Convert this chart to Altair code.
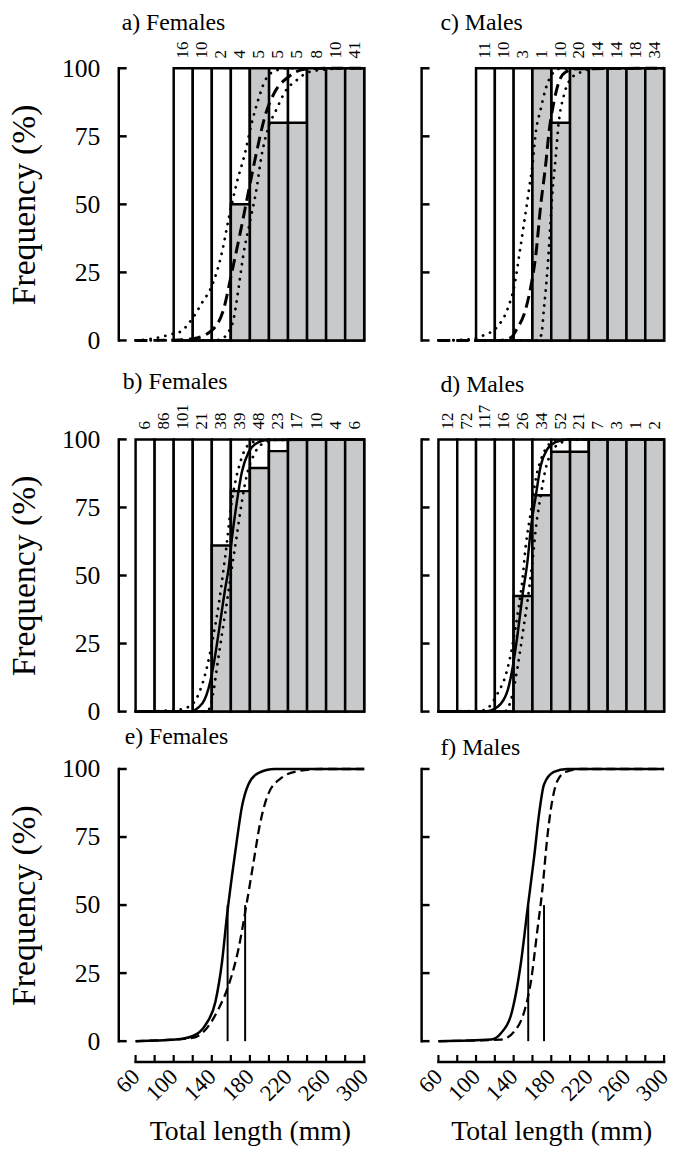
import altair as alt
import pandas as pd

# ------------------------------------------------------------------ data
BIN = 20
starts_ac = [100, 120, 140, 160, 180, 200, 220, 240, 260, 280]
starts_bd = [60, 80, 100, 120, 140, 160, 180, 200, 220, 240, 260, 280]

counts_a = [16, 10, 2, 4, 5, 5, 5, 8, 10, 41]
mature_a = [0, 0, 0, 50, 100, 80, 80, 100, 100, 100]
counts_c = [11, 10, 3, 1, 10, 20, 14, 14, 18, 34]
mature_c = [0, 0, 0, 100, 80, 100, 100, 100, 100, 100]
counts_b = [6, 86, 101, 21, 38, 39, 48, 23, 17, 10, 4, 6]
mature_b = [0, 0, 0, 0, 61, 81, 89.5, 95.7, 100, 100, 100, 100]
counts_d = [12, 72, 117, 16, 26, 34, 52, 21, 7, 3, 1, 2]
mature_d = [0, 0, 0, 0, 42.5, 79.5, 95.5, 95.5, 100, 100, 100, 100]

# fitted ogives (total length mm, % mature)
a_fit_L = [60, 100, 120, 140, 152.5, 161, 170, 178.4, 187, 196, 206, 220, 237, 260, 300]
a_fit_p = [0, 0.1, 0.6, 3.7, 11.6, 25, 39.8, 54.5, 69.2, 82.6, 91.2, 96.7, 99.6, 100, 100]
a_up_L = [60, 80, 100, 106, 119.5, 130, 140, 150.7, 157.7, 166.3, 175, 182, 189, 196, 206, 220, 300]
a_up_p = [0, 0.8, 2.5, 3, 8, 14, 20, 32.4, 44.7, 58, 69, 80, 88.7, 95.5, 99, 100, 100]
a_lo_L = [60, 140, 150, 156, 163, 168, 173, 180, 187, 192.3, 199, 208, 216.6, 230.4, 240.8, 258, 280, 300]
a_lo_p = [0, 0, 0.5, 2.4, 8, 19, 31.2, 43.5, 55.7, 68, 77.7, 85, 91.2, 96, 98.5, 99.5, 100, 100]

c_fit_L = [60, 123, 137, 144, 151, 158, 163.6, 168.8, 174, 177.6, 182.8, 188, 195, 207, 300]
c_fit_p = [0, 0, 1, 4.6, 9.5, 19.3, 31.5, 49.8, 64.4, 76.6, 87.6, 94.9, 98.5, 99.8, 100]
c_up_L = [60, 88, 106, 123, 134, 141, 146, 151.3, 156.5, 160, 163.6, 168.8, 174, 181, 188, 300]
c_up_p = [0, 0.3, 1.6, 5.2, 12, 20.5, 31.5, 43.7, 55.9, 64.4, 76.6, 85, 92.4, 97.9, 99.8, 100]
c_lo_L = [60, 165, 169.3, 172.3, 175.8, 178.6, 181, 184.6, 188, 193.4, 200.4, 211, 230, 300]
c_lo_p = [0, 0, 2, 12, 25.4, 40, 53.4, 66.8, 80.2, 90, 96, 98.5, 100, 100]

b_fit_L = [60, 116, 130, 138.7, 143.8, 149, 154.2, 157.7, 161.1, 166.3, 171.5, 178.4, 185.4, 199, 300]
b_fit_p = [0, 0, 3, 11.5, 21.2, 33.3, 45.5, 52.7, 63.6, 77, 87.9, 95.2, 98.2, 99.8, 100]
b_up_L = [60, 100, 116, 126.5, 135, 142, 147.3, 152.5, 156, 159.4, 164.6, 169.8, 175, 182, 192, 300]
b_up_p = [0, 0.5, 1.8, 6.7, 16.4, 28.5, 39.4, 52.7, 62.4, 73.3, 84.2, 91.5, 96.4, 98.8, 99.8, 100]
b_lo_L = [60, 135, 142, 145.5, 150.7, 156, 161, 166.3, 171.5, 176.7, 183.6, 192.3, 206, 300]
b_lo_p = [0, 0, 7.9, 16.4, 28.5, 40.6, 52.7, 64.8, 77, 86.7, 93.9, 98.2, 99.8, 100]

d_fit_L = [60, 109, 123, 133.7, 139, 144.2, 149.5, 154.7, 158.3, 163.6, 168.8, 175.8, 184.6, 197, 300]
d_fit_p = [0, 0, 1.8, 7.9, 16.4, 28.5, 43, 55.2, 67.3, 79.4, 90.3, 96.4, 99, 100, 100]
d_up_L = [60, 100, 109, 123, 132, 139, 144.2, 149.5, 153, 158.3, 163.6, 170.5, 177.6, 186, 300]
d_up_p = [0, 0.3, 0.6, 6.7, 13.9, 24.8, 35.8, 49, 61.2, 73.3, 85.5, 93.9, 98.2, 99.8, 100]
d_lo_L = [60, 130, 139, 144.2, 149.5, 154.7, 160, 163.6, 168.8, 174, 181, 191.6, 204, 300]
d_lo_p = [0, 0, 6.7, 16.4, 28.5, 40.6, 55.2, 67.3, 79.4, 89.1, 95.8, 99, 100, 100]

e_solid_L = [60, 102, 119.5, 133.4, 143.8, 150.7, 155.9, 161.1, 166.3, 171.5, 178.4, 188.8, 206, 300]
e_solid_p = [0, 0.6, 1.8, 6, 14.5, 29, 46, 60.5, 73.8, 85.9, 94.3, 98.5, 100, 100]
e_dash_L = [60, 119.5, 133.4, 147.3, 157.7, 168, 176.7, 183.6, 190.6, 199.2, 213, 230.4, 254.6, 300]
e_dash_p = [0, 1.2, 4.2, 12, 20.6, 33.9, 50.8, 65.3, 79.8, 90.7, 96.7, 99.2, 100, 100]
e_L50 = [156.6, 175]

f_solid_L = [60, 116, 126.7, 137.3, 147.8, 154.7, 161.8, 167, 172.3, 182.8, 196.8, 300]
f_solid_p = [0, 0.6, 3, 9.7, 29, 48.4, 67.7, 83.4, 94.3, 98.9, 100, 100]
f_dash_L = [60, 126.7, 140.7, 151.3, 158.3, 165.3, 170.5, 175.8, 181, 186.3, 195.2, 211, 300]
f_dash_p = [0, 0.6, 3.6, 10.9, 21.8, 41, 55.6, 75, 88.3, 95.5, 98.9, 100, 100]
f_L50 = [155.5, 172.3]

y_ticks = [0, 25, 50, 75, 100]
x_minor_ticks = [60, 80, 100, 120, 140, 160, 180, 200, 220, 240, 260, 280, 300]
x_label_ticks = [60, 100, 140, 180, 220, 260, 300]

# ------------------------------------------------------------------ style
FONT = "Liberation Serif"
GRAY = "#c8c9cb"
H = 275
W_LEFT = 231
W_RIGHT = 228
AX_OFF = 17
X_OFF = 21
TITLE_FS = 24
COUNT_FS = 17


def xs():
    return alt.Scale(domain=[60, 300], nice=False, zero=False)


def ys():
    return alt.Scale(domain=[0, 100], nice=False, zero=False)


def y_axis(left):
    if not left:
        return None
    return alt.Axis(values=y_ticks, domain=False, ticks=False, tickSize=0, grid=False,
                    offset=AX_OFF, labelPadding=19, labelFont=FONT, labelFontSize=26,
                    labelColor="black", title="Frequency (%)", titleFont=FONT,
                    titleFontSize=34, titleFontWeight="normal", titleColor="black",
                    titlePadding=20)


def x_axis(bottom):
    if not bottom:
        return None
    return alt.Axis(values=x_label_ticks, domain=False, ticks=False, tickSize=0, grid=False,
                    offset=X_OFF, labelAngle=315, labelAlign="right", labelBaseline="middle",
                    labelOverlap=False, labelFlush=False, labelBound=False,
                    labelPadding=11, labelFont=FONT, labelFontSize=23, labelColor="black",
                    title="Total length (mm)", titleFont=FONT, titleFontSize=28,
                    titleFontWeight="normal", titleColor="black", titlePadding=12)


def y_axis_layers(yax, xax):
    tdf = pd.DataFrame({"t": y_ticks})
    line = alt.Chart(tdf).mark_rule(color="black", strokeWidth=2.5, strokeCap="square").encode(
        x=alt.value(-AX_OFF),
        y=alt.Y("min(t):Q", scale=ys(), axis=yax),
        y2="max(t):Q",
    )
    ticks = alt.Chart(tdf).mark_rule(color="black", strokeWidth=2.5).encode(
        x=alt.value(-AX_OFF),
        x2=alt.value(-AX_OFF + 8),
        y=alt.Y("t:Q", scale=ys(), axis=yax),
    )
    return [line, ticks]


def x_axis_layers(yax, xax):
    tdf = pd.DataFrame({"t": x_minor_ticks})
    line = alt.Chart(tdf).mark_rule(color="black", strokeWidth=2.5, strokeCap="square").encode(
        x=alt.X("min(t):Q", scale=xs(), axis=xax),
        x2="max(t):Q",
        y=alt.value(H + X_OFF),
    )
    ticks = alt.Chart(tdf).mark_rule(color="black", strokeWidth=2.2).encode(
        x=alt.X("t:Q", scale=xs(), axis=xax),
        y=alt.value(H + X_OFF),
        y2=alt.value(H + X_OFF - 7),
    )
    return [line, ticks]


def ttl(text, offset, dx):
    return alt.TitleParams(text, anchor="start", frame="group", font=FONT, fontSize=TITLE_FS,
                           fontWeight="normal", color="black", offset=offset, dx=dx)


def curve_df(Ls, ps, name):
    return pd.DataFrame({"L": Ls, "p": ps, "band": name})


def bar_panel(starts, counts, mature, fit, up, lo, fit_solid, title, left, width, t_off, t_dx):
    yax = y_axis(left)
    xax = None
    df = pd.DataFrame({"start": starts, "count": counts, "mature": mature})
    base = alt.Chart(df).transform_calculate(
        end=f"datum.start + {BIN}", mid=f"datum.start + {BIN / 2}", lo="0", hi="100")
    white = base.mark_rect(fill="white", stroke="black", strokeWidth=2.5).encode(
        x=alt.X("start:Q", scale=xs(), axis=xax), x2="end:Q",
        y=alt.Y("lo:Q", scale=ys(), axis=yax), y2="hi:Q",
    )
    gray = base.mark_rect(fill=GRAY, stroke="black", strokeWidth=2.5).encode(
        x=alt.X("start:Q", scale=xs(), axis=xax), x2="end:Q",
        y=alt.Y("lo:Q", scale=ys(), axis=yax), y2="mature:Q",
    )
    ci_df = pd.concat([curve_df(up[0], up[1], "upper"), curve_df(lo[0], lo[1], "lower")])
    ci = alt.Chart(ci_df).mark_line(stroke="black", strokeWidth=2.8, strokeDash=[0.1, 7.5],
                                    strokeCap="round", interpolate="monotone").encode(
        x=alt.X("L:Q", scale=xs(), axis=xax),
        y=alt.Y("p:Q", scale=ys(), axis=yax),
        detail="band:N",
    )
    if fit_solid:
        fm = alt.Chart(curve_df(fit[0], fit[1], "fit")).mark_line(
            stroke="black", strokeWidth=2.5, interpolate="monotone")
    else:
        fm = alt.Chart(curve_df(fit[0], fit[1], "fit")).mark_line(
            stroke="black", strokeWidth=3, strokeDash=[12, 6], interpolate="monotone")
    fitl = fm.encode(x=alt.X("L:Q", scale=xs(), axis=xax), y=alt.Y("p:Q", scale=ys(), axis=yax))
    labels = base.mark_text(angle=270, align="left", baseline="middle", dx=10, font=FONT,
                            fontSize=COUNT_FS, color="black").encode(
        x=alt.X("mid:Q", scale=xs(), axis=xax),
        y=alt.Y("hi:Q", scale=ys(), axis=yax),
        text="count:Q",
    )
    layers = [white, gray, ci, fitl, labels] + y_axis_layers(yax, xax)
    return alt.layer(*layers).properties(width=width, height=H, title=ttl(title, t_off, t_dx))


def curve_panel(sL, sp, dL, dp, l50, title, left, width, t_off, t_dx):
    yax = y_axis(left)
    xax = x_axis(True)
    solid = alt.Chart(curve_df(sL, sp, "solid")).mark_line(
        stroke="black", strokeWidth=2.5, interpolate="monotone").encode(
        x=alt.X("L:Q", scale=xs(), axis=xax),
        y=alt.Y("p:Q", scale=ys(), axis=yax),
    )
    dash = alt.Chart(curve_df(dL, dp, "dash")).mark_line(
        stroke="black", strokeWidth=2.3, strokeDash=[9, 5], interpolate="monotone").encode(
        x=alt.X("L:Q", scale=xs(), axis=xax),
        y=alt.Y("p:Q", scale=ys(), axis=yax),
    )
    vl = alt.Chart(pd.DataFrame({"L50": l50})).transform_calculate(
        y0="0", y50="50").mark_rule(color="black", strokeWidth=2).encode(
        x=alt.X("L50:Q", scale=xs(), axis=xax),
        y=alt.Y("y0:Q", scale=ys(), axis=yax),
        y2="y50:Q",
    )
    layers = [solid, dash, vl] + y_axis_layers(yax, xax) + x_axis_layers(yax, xax)
    return alt.layer(*layers).properties(width=width, height=H, title=ttl(title, t_off, t_dx))


pa = bar_panel(starts_ac, counts_a, mature_a, (a_fit_L, a_fit_p), (a_up_L, a_up_p),
               (a_lo_L, a_lo_p), False, "a) Females", True, W_LEFT, 7, -14)
pc = bar_panel(starts_ac, counts_c, mature_c, (c_fit_L, c_fit_p), (c_up_L, c_up_p),
               (c_lo_L, c_lo_p), False, "c) Males", False, W_RIGHT, 7, 2)
pb = bar_panel(starts_bd, counts_b, mature_b, (b_fit_L, b_fit_p), (b_up_L, b_up_p),
               (b_lo_L, b_lo_p), True, "b) Females", True, W_LEFT, 10, -13)
pd_ = bar_panel(starts_bd, counts_d, mature_d, (d_fit_L, d_fit_p), (d_up_L, d_up_p),
                (d_lo_L, d_lo_p), True, "d) Males", False, W_RIGHT, 8, 2)
pe = curve_panel(e_solid_L, e_solid_p, e_dash_L, e_dash_p, e_L50, "e) Females", True, W_LEFT, 7, -11)
pf = curve_panel(f_solid_L, f_solid_p, f_dash_L, f_dash_p, f_L50, "f) Males", False, W_RIGHT, 4, 2)

row1 = alt.hconcat(pa, pc, spacing=75, bounds="flush")
row2 = alt.hconcat(pb, pd_, spacing=75, bounds="flush")
row3 = alt.hconcat(pe, pf, spacing=75, bounds="flush")
top = alt.vconcat(row1, row2, spacing=17)

chart = alt.vconcat(top, row3, spacing=1).properties(
    padding={"left": 8, "top": 4, "right": 0, "bottom": 0},
    background="white",
).configure_view(stroke=None).configure_title(font=FONT)

chart.save("out.html", embed_options={"renderer": "svg", "actions": False})
